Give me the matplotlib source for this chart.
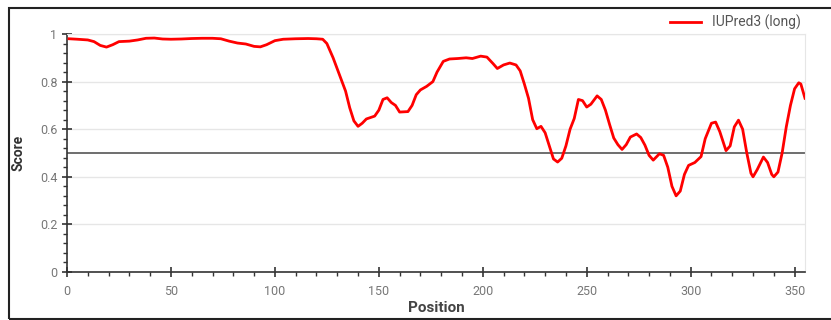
import matplotlib.pyplot as plt
from matplotlib.ticker import MultipleLocator
from matplotlib.patches import Rectangle

plt.rcParams['font.family'] = ['Roboto', 'DejaVu Sans']

# IUPred3 long disorder profile
position = [1, 5, 10, 13, 16, 19, 22, 25, 30, 34, 38, 42, 46, 50, 55, 60, 65, 70,
            74, 78, 82, 86, 90, 93, 96, 100, 104, 110, 116, 120, 123, 125, 128, 131,
            134, 136, 138, 140, 142, 144, 148, 150, 152, 154, 156, 158, 160, 164, 166,
            168, 170, 173, 176, 178, 181, 184, 188, 192, 195, 199, 202, 205, 207, 210,
            213, 216, 218, 220, 222, 224, 226, 228, 230, 232, 234, 236, 238, 240, 242,
            244, 246, 248, 250, 252, 255, 257, 259, 261, 263, 265, 267, 269, 271, 274,
            276, 278, 280, 282, 285, 287, 289, 291, 293, 295, 297, 299, 302, 305, 307,
            310, 312, 314, 317, 319, 321, 323, 325, 327, 329, 330, 332, 335, 337, 339,
            340, 342, 344, 346, 348, 350, 352, 353, 355]
score = [0.98, 0.978, 0.975, 0.968, 0.952, 0.945, 0.955, 0.968, 0.97, 0.975, 0.982,
         0.983, 0.979, 0.978, 0.979, 0.981, 0.982, 0.982, 0.98, 0.97, 0.962, 0.958,
         0.948, 0.946, 0.955, 0.972, 0.978, 0.98, 0.981, 0.98, 0.978, 0.96, 0.90, 0.83,
         0.76, 0.69, 0.635, 0.612, 0.625, 0.643, 0.655, 0.68, 0.725, 0.732, 0.712, 0.70,
         0.672, 0.674, 0.70, 0.745, 0.765, 0.78, 0.80, 0.84, 0.885, 0.895, 0.897, 0.9,
         0.897, 0.907, 0.903, 0.875, 0.855, 0.87, 0.878, 0.87, 0.845, 0.79, 0.73, 0.64,
         0.602, 0.612, 0.585, 0.53, 0.475, 0.462, 0.478, 0.53, 0.6, 0.645, 0.725, 0.72,
         0.693, 0.705, 0.74, 0.725, 0.68, 0.62, 0.563, 0.535, 0.515, 0.535, 0.567, 0.58,
         0.565, 0.533, 0.49, 0.47, 0.497, 0.49, 0.44, 0.36, 0.32, 0.34, 0.41, 0.448,
         0.46, 0.485, 0.56, 0.625, 0.63, 0.59, 0.51, 0.53, 0.61, 0.638, 0.6, 0.5, 0.415,
         0.40, 0.43, 0.483, 0.46, 0.41, 0.40, 0.42, 0.5, 0.61, 0.7, 0.77, 0.795, 0.79,
         0.73]
threshold = 0.5

fig = plt.figure(figsize=(8.31, 3.2), dpi=100)
ax = fig.add_axes([67 / 831, 48 / 320, 738 / 831, 238 / 320])

ax.plot(position, score, color='#ff0000', linewidth=2, solid_joinstyle='round',
        label='IUPred3 (long)', zorder=3)
ax.axhline(threshold, color='#555555', linewidth=1.2, zorder=2)

ax.set_xlim(0, 355)
ax.set_ylim(0, 1)
ax.xaxis.set_major_locator(MultipleLocator(50))
ax.xaxis.set_minor_locator(MultipleLocator(10))
ax.yaxis.set_major_locator(MultipleLocator(0.2))
ax.yaxis.set_minor_locator(MultipleLocator(0.04))
ax.set_yticks([0, 0.2, 0.4, 0.6, 0.8, 1.0])
ax.set_yticklabels(['0', '0.2', '0.4', '0.6', '0.8', '1'])

ax.grid(axis='y', which='major', color='#e6e6e6', linewidth=1)
ax.set_axisbelow(True)
for side in ['top', 'right']:
    ax.spines[side].set_color('#e6e6e6')
for side in ['left', 'bottom']:
    ax.spines[side].set_color('#333333')
    ax.spines[side].set_linewidth(1.2)

ax.tick_params(which='major', direction='inout', length=7, width=1.2, color='#333333',
               labelsize=9, labelcolor='#777777')
ax.tick_params(which='minor', direction='out', length=3, width=1, color='#333333')
ax.tick_params(axis='x', pad=6)

ax.set_xlabel('Position', fontsize=11, fontweight='bold', color='#444444', labelpad=2)
ax.set_ylabel('Score', fontsize=10, fontweight='bold', color='#333333', labelpad=10)

ax.legend(loc='lower right', bbox_to_anchor=(1.0, 1.0), frameon=False, fontsize=10,
          labelcolor='#555555', handlelength=2.2, borderaxespad=0.2, borderpad=0.1)

# outer frame: top, left and bottom edges (runs off the right side)
fig.patches.append(Rectangle((9 / 831, 1 / 320), 840 / 831, 311 / 320,
                             transform=fig.transFigure, fill=False,
                             edgecolor='#222222', linewidth=1.5))

fig.savefig('out.png', dpi=100)
